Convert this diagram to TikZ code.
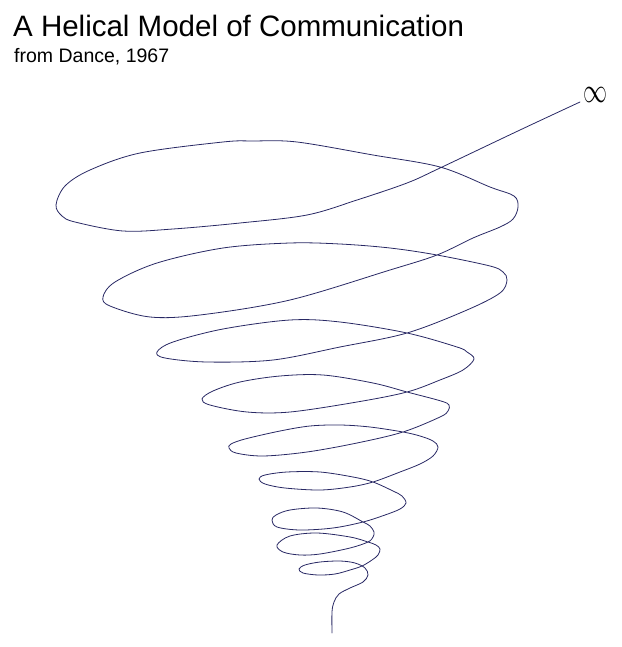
\documentclass[tikz,border=0pt]{standalone}
\usepackage{fontspec}
\setmainfont{Liberation Sans}
\usepackage{graphicx}
\definecolor{helix}{RGB}{40,40,100}
\begin{document}
\begin{tikzpicture}[x=1pt,y=-1pt,
  helixline/.style={draw=helix, line width=0.8pt, line join=round, line cap=round},
  label/.style={anchor=base west, inner sep=0pt}]
\useasboundingbox (0,0) rectangle (621,647);
\node[label, font=\fontsize{29.5}{30}\selectfont] (title) at (13,37) {A Helical Model of Communication};
\node[label, font=\fontsize{19.5}{20}\selectfont] (sub) at (14,63) {from Dance, 1967};
\node[inner sep=0pt] (inf) at (595,94.5) {\resizebox{24pt}{15pt}{$\infty$}};
\coordinate (start) at (332,633);
\coordinate (end) at (580,102);
\draw[helixline] plot[smooth, tension=0.55] coordinates {
 (start) (332,612) (334,602) (339,594) (350,588) (363,582) (368,575)
 (365,568) (355,563) (340,561) (320,562) (305,565) (299,569)
 (303,573) (318,575) (335,574) (350,570) (362,566) (372,560) (378,555) (380,549)
 (376,545) (368,542) (350,537) (317,533) (290,536) (277,545)
 (283,552) (300,555) (320,554) (350,548) (368,542) (373,537) (374,532)
 (370,526) (363,522) (343,512) (317,508) (290,510) (276,515) (272,520)
 (277,527) (300,530) (333,528) (363,522) (385,515) (400,509) (406,503)
 (402,496) (393,491) (373,482) (353,477) (320,472) (287,472) (265,475) (259,479)
 (265,484) (285,488) (320,490) (350,487) (373,482) (400,472) (420,464) (433,456) (438,447)
 (433,441) (420,436) (403,432) (370,427) (340,425) (310,426) (280,431) (245,439) (231,444) (229,448)
 (236,453) (263,456) (307,452) (357,443) (403,432) (440,417) (448,411) (449,405)
 (441,401) (407,392) (373,383) (323,375) (280,376) (240,382) (213,391) (202,399)
 (210,405) (247,412) (290,412) (357,402) (407,392) (440,380) (463,370) (474,359)
 (467,352) (457,347) (407,333) (340,322) (290,320) (223,329) (173,342) (157,352)
 (165,358) (207,362) (273,360) (340,347) (407,333) (467,310) (500,293) (507,280)
 (503,272) (490,266) (437,255) (390,248) (340,244) (290,243) (223,248) (157,263) (115,282) (103,297)
 (110,306) (150,317) (200,315) (290,300) (390,270) (437,255) (473,238) (500,227) (513,219) (518,207)
 (514,196) (490,187) (440,167) (373,155) (297,142) (253,141) (223,142) (140,153) (90,170) (65,186) (56,205)
 (62,216) (75,222) (123,231) (173,229) (240,223) (307,215) (357,200) (407,183) (440,168) (520,130) (end)
};
\end{tikzpicture}
\end{document}
